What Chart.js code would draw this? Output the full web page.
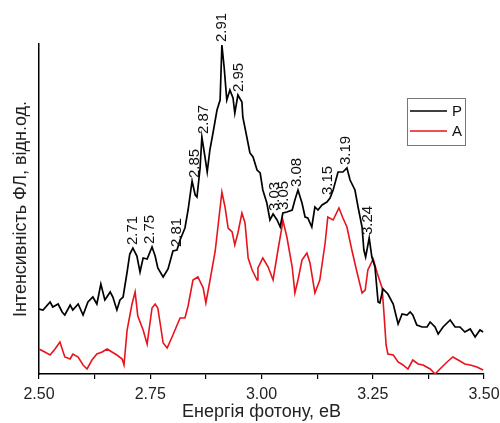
<!DOCTYPE html>
<html>
<head>
<meta charset="utf-8">
<title>ФЛ спектри</title>
<script src="https://cdn.jsdelivr.net/npm/chart.js@4/dist/chart.umd.min.js"></script>
<style>
  html, body { margin: 0; padding: 0; background: #fff; }
  #wrap { width: 500px; height: 423px; }
</style>
</head>
<body>
<div id="wrap"><canvas id="plChart" width="500" height="423"></canvas></div>
<script>
// spectrum P (black), photon energy in eV and PL intensity in arb. units
const energyP = [2.500, 2.509, 2.525, 2.531, 2.543, 2.552, 2.558, 2.570, 2.576, 2.588, 2.599, 2.610, 2.621, 2.630, 2.639, 2.648,
    2.660, 2.666, 2.675, 2.682, 2.689, 2.698, 2.704, 2.711, 2.720, 2.727, 2.734, 2.743, 2.754, 2.761, 2.767, 2.779,
    2.790, 2.801, 2.810, 2.817, 2.828, 2.835, 2.844, 2.851, 2.855, 2.862, 2.866, 2.873, 2.878, 2.884, 2.891, 2.900,
    2.907, 2.911, 2.916, 2.922, 2.929, 2.936, 2.940, 2.947, 2.956, 2.958, 2.967, 2.974, 2.981, 2.990, 2.997, 3.003,
    3.012, 3.019, 3.026, 3.035, 3.042, 3.048, 3.057, 3.069, 3.075, 3.082, 3.091, 3.098, 3.104, 3.113, 3.120, 3.127,
    3.136, 3.147, 3.154, 3.161, 3.172, 3.183, 3.192, 3.199, 3.210, 3.217, 3.226, 3.230, 3.234, 3.242, 3.248, 3.255,
    3.262, 3.266, 3.273, 3.284, 3.296, 3.307, 3.316, 3.327, 3.334, 3.340, 3.349, 3.361, 3.372, 3.379, 3.390, 3.397,
    3.408, 3.424, 3.435, 3.446, 3.457, 3.469, 3.480, 3.491, 3.498];
const intensityP = [65, 64, 72, 67, 70, 62, 59, 69, 64, 70, 59, 72, 77, 70, 90, 74,
    82, 77, 64, 74, 77, 102, 120, 126, 118, 102, 116, 115, 127, 118, 106, 97,
    105, 123, 124, 134, 146, 164, 193, 179, 177, 206, 237, 217, 202, 224, 241, 264,
    274, 329, 307, 274, 284, 276, 261, 279, 272, 257, 237, 221, 217, 204, 201, 184,
    171, 154, 160, 154, 147, 161, 162, 164, 174, 184, 171, 157, 156, 147, 167, 164,
    169, 172, 176, 184, 202, 202, 206, 194, 184, 167, 147, 124, 117, 136, 117, 107,
    72, 71, 85, 80, 70, 50, 60, 59, 62, 59, 49, 47, 47, 52, 47, 40,
    47, 54, 47, 47, 42, 45, 37, 44, 42];

// spectrum A (red)
const energyA = [2.500, 2.513, 2.525, 2.536, 2.547, 2.558, 2.570, 2.576, 2.588, 2.599, 2.608, 2.619, 2.630, 2.642, 2.653, 2.664,
    2.675, 2.687, 2.691, 2.698, 2.709, 2.716, 2.722, 2.734, 2.743, 2.754, 2.761, 2.767, 2.779, 2.788, 2.799, 2.817,
    2.828, 2.835, 2.846, 2.857, 2.869, 2.875, 2.884, 2.896, 2.911, 2.918, 2.925, 2.934, 2.940, 2.947, 2.956, 2.963,
    2.970, 2.979, 2.990, 2.992, 3.003, 3.015, 3.026, 3.037, 3.046, 3.048, 3.057, 3.069, 3.075, 3.082, 3.091, 3.102,
    3.109, 3.120, 3.131, 3.143, 3.149, 3.161, 3.174, 3.183, 3.192, 3.203, 3.215, 3.226, 3.233, 3.239, 3.251, 3.260,
    3.271, 3.275, 3.280, 3.284, 3.296, 3.307, 3.318, 3.329, 3.340, 3.352, 3.363, 3.379, 3.390, 3.401, 3.417, 3.430,
    3.442, 3.457, 3.469, 3.484, 3.498];
const intensityA = [25, 22, 19, 25, 32, 17, 15, 20, 17, 9, 5, 14, 20, 22, 25, 22,
    19, 15, 9, 44, 70, 82, 58, 44, 30, 66, 70, 66, 31, 26, 37, 56,
    56, 68, 94, 97, 86, 71, 93, 123, 182, 167, 146, 142, 129, 141, 161, 151,
    116, 104, 94, 106, 116, 107, 94, 124, 147, 154, 137, 107, 81, 94, 114, 121,
    111, 81, 94, 131, 157, 154, 166, 156, 147, 124, 101, 81, 84, 104, 115, 101,
    86, 62, 29, 20, 19, 12, 9, 5, 14, 10, 9, 5, 0, 5, 12, 17,
    14, 10, 9, 7, 4];

// peak labels written above spectrum P
const peakLabels = ['2.71', '2.75', '2.81', '2.85', '2.87', '2.91', '2.95', '3.03', '3.05', '3.08', '3.15', '3.19', '3.24'];

const seriesNames = ['P', 'A'];
const xTickLabels = ['2.50', '2.75', '3.00', '3.25', '3.50'];

const FONT = "'Liberation Sans', Arial, sans-serif";

function toPoints(xs, ys) {
    return xs.map((x, i) => ({ x: x, y: ys[i] }));
}

// vertical labels over the peaks, anchored on the local maximum of P
const peakLabelPlugin = {
    id: 'peakLabels',
    afterDatasetsDraw(chart) {
        const ctx = chart.ctx;
        const xs = chart.scales.x;
        const ys = chart.scales.y;
        ctx.save();
        ctx.font = '15px ' + FONT;
        ctx.fillStyle = '#111';
        ctx.textAlign = 'left';
        ctx.textBaseline = 'middle';
        peakLabels.forEach(lbl => {
            const e = parseFloat(lbl);
            let top = 0;
            energyP.forEach((en, i) => {
                if (Math.abs(en - e) <= 0.007 && intensityP[i] > top) top = intensityP[i];
            });
            const px = xs.getPixelForValue(e);
            const py = ys.getPixelForValue(top) - 3;
            ctx.save();
            ctx.translate(px, py);
            ctx.rotate(-Math.PI / 2);
            ctx.fillText(lbl, 0, 0);
            ctx.restore();
        });
        ctx.restore();
    }
};

// small framed legend inside the plot, right side
const boxLegendPlugin = {
    id: 'boxLegend',
    afterDraw(chart) {
        const ctx = chart.ctx;
        const area = chart.chartArea;
        const bx = area.right - 77, by = area.top + 54, bw = 58, bh = 47;
        ctx.save();
        ctx.strokeStyle = '#777';
        ctx.lineWidth = 1;
        ctx.strokeRect(bx + 0.5, by + 0.5, bw, bh);
        ctx.font = '15px ' + FONT;
        ctx.textBaseline = 'middle';
        ctx.textAlign = 'left';
        chart.data.datasets.forEach((ds, i) => {
            const ly = by + 13 + i * 20;
            ctx.strokeStyle = ds.borderColor;
            ctx.lineWidth = 1.6;
            ctx.beginPath();
            ctx.moveTo(bx + 3, ly);
            ctx.lineTo(bx + 40, ly);
            ctx.stroke();
            ctx.fillStyle = '#111';
            ctx.fillText(ds.label, bx + 45, ly + 1);
        });
        ctx.restore();
    }
};

const ctx = document.getElementById('plChart').getContext('2d');
const plChart = new Chart(ctx, {
    type: 'line',
    data: {
        datasets: [
            {
                label: seriesNames[0],
                data: toPoints(energyP, intensityP),
                borderColor: '#000000',
                borderWidth: 1.7,
                pointRadius: 0,
                fill: false,
                tension: 0
            },
            {
                label: seriesNames[1],
                data: toPoints(energyA, intensityA),
                borderColor: '#e8141c',
                borderWidth: 1.6,
                pointRadius: 0,
                fill: false,
                tension: 0
            }
        ]
    },
    options: {
        responsive: false,
        animation: false,
        layout: { padding: { top: 44, right: 16, left: 0, bottom: 0 } },
        plugins: {
            legend: { display: false },
            tooltip: { enabled: false }
        },
        scales: {
            x: {
                type: 'linear',
                min: 2.5,
                max: 3.5,
                afterFit: s => {
                    s.height = 49;
                    s.paddingLeft = 0;
                    s.paddingRight = 0;
                },
                ticks: {
                    stepSize: 0.125,
                    autoSkip: false,
                    maxRotation: 0,
                    padding: 6,
                    color: '#222',
                    font: { family: FONT, size: 16 },
                    callback: v => {
                        const q = v * 4;
                        if (Math.abs(q - Math.round(q)) > 1e-6) return '';
                        return xTickLabels[Math.round((v - 2.5) * 4)];
                    }
                },
                grid: { drawOnChartArea: false, drawTicks: true, tickLength: 5, color: '#000', lineWidth: 1.2 },
                border: { display: true, color: '#000', width: 1.5 },
                title: {
                    display: true,
                    text: 'Енергія фотону, еВ',
                    color: '#222',
                    font: { family: FONT, size: 18 },
                    padding: { top: 0, bottom: 0 }
                }
            },
            y: {
                min: 0,
                max: 330,
                afterFit: s => { s.width = 39; },
                ticks: { display: false },
                grid: { display: true, drawOnChartArea: false, drawTicks: false },
                border: { display: true, color: '#000', width: 1.5 },
                title: {
                    display: true,
                    text: 'Інтенсивність ФЛ, відн.од.',
                    color: '#222',
                    font: { family: FONT, size: 18 },
                    padding: { top: 10, bottom: 0 }
                }
            }
        }
    },
    plugins: [peakLabelPlugin, boxLegendPlugin]
});
console.log('chart area', plChart.chartArea);
</script>
</body>
</html>
